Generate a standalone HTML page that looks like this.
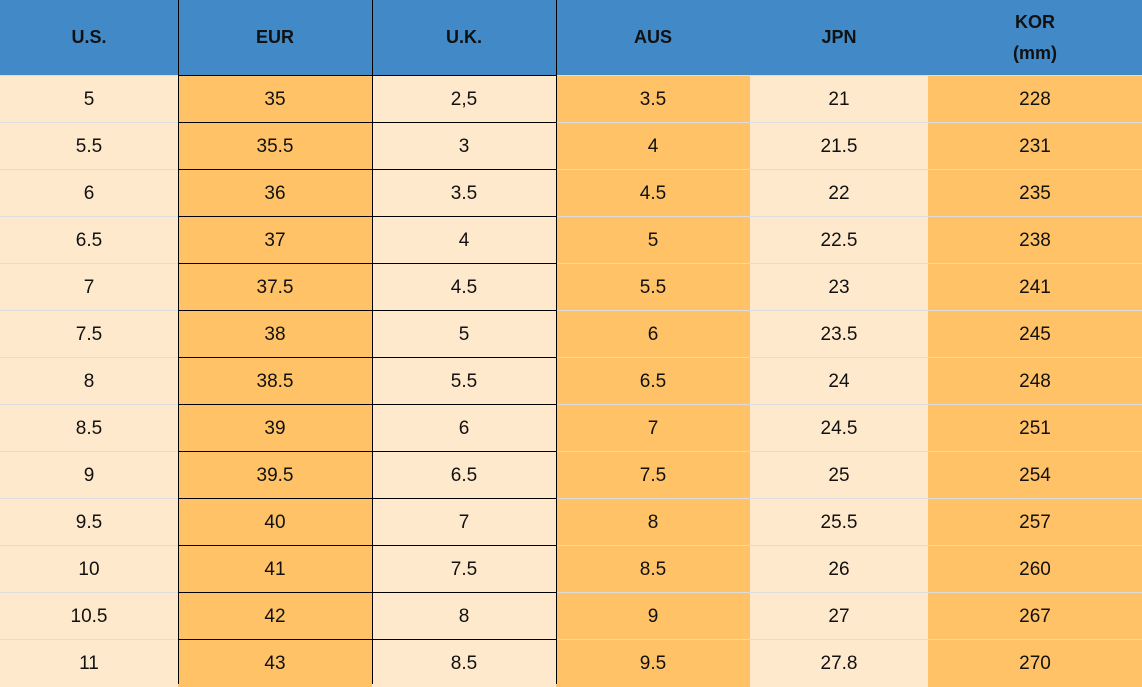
<!DOCTYPE html><html><head><style>
body{margin:0;width:1142px;height:684px;overflow:hidden;background:#ffe9cc;font-family:"Liberation Sans",Arial,sans-serif;position:relative}
div{position:absolute;box-sizing:border-box;display:flex;align-items:center;justify-content:center;text-align:center;color:#111}
.h{background:#4189c7;font-weight:bold;font-size:18px;line-height:31px;color:#111}
.c{font-size:19px}
.l{background:#ffe9cc}.o{background:#ffc266}
</style></head><body>
<script>
const xs=[0,178,372,556,750,928,1142];
const hd=["U.S.","EUR","U.K.","AUS","JPN","KOR<br>(mm)"];
const rows=[["5","35","2,5","3.5","21","228"],["5.5","35.5","3","4","21.5","231"],["6","36","3.5","4.5","22","235"],["6.5","37","4","5","22.5","238"],["7","37.5","4.5","5.5","23","241"],["7.5","38","5","6","23.5","245"],["8","38.5","5.5","6.5","24","248"],["8.5","39","6","7","24.5","251"],["9","39.5","6.5","7.5","25","254"],["9.5","40","7","8","25.5","257"],["10","41","7.5","8.5","26","260"],["10.5","42","8","9","27","267"],["11","43","8.5","9.5","27.8","270"]];
let h='';
for(let i=0;i<6;i++){h+=`<div class="h" style="left:${xs[i]}px;top:0;width:${xs[i+1]-xs[i]}px;height:75px">${hd[i]}</div>`;}
rows.forEach((r,j)=>{const y=75+j*47;for(let i=0;i<6;i++){const cl=(i%2)?'o':'l';const blk=(i==1||i==2);
h+=`<div class="c ${cl}" style="left:${xs[i]}px;top:${y}px;width:${xs[i+1]-xs[i]}px;height:48px;border-top:1px solid ${blk?'#000':'#ddd'}">${r[i]}</div>`;}});
[178,372,556].forEach(x=>{h+=`<div style="left:${x}px;top:0;width:1px;height:684px;background:#000"></div>`});
document.write(h);
</script>
</body></html>
